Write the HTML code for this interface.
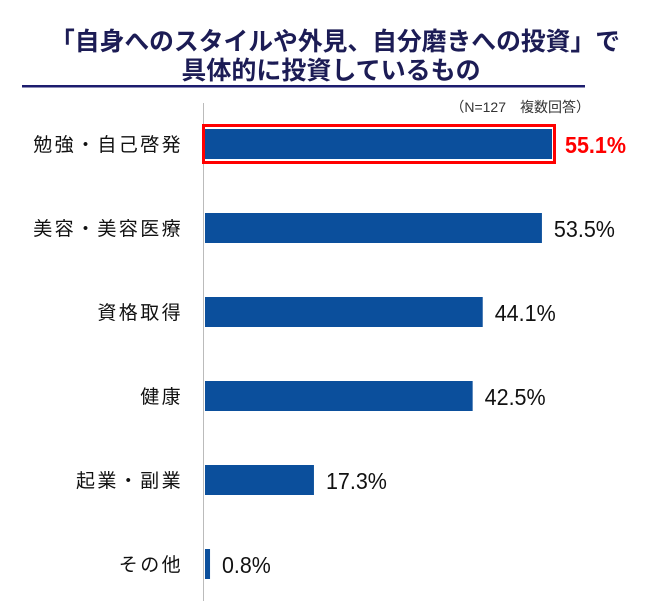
<!DOCTYPE html>
<html><head><meta charset="utf-8"><style>
body{margin:0;background:#fff;width:650px;height:601px;overflow:hidden;font-family:"Liberation Sans","Noto Sans CJK JP",sans-serif}
</style></head><body>
<svg width="650" height="601" xmlns="http://www.w3.org/2000/svg">
<text x="335" y="50" text-anchor="middle" font-size="25" font-weight="bold" fill="#1c1c55" textLength="570" lengthAdjust="spacingAndGlyphs" font-family="Liberation Sans, Noto Sans CJK JP, sans-serif">「自身へのスタイルや外見、自分磨きへの投資」で</text>
<text x="331" y="79" text-anchor="middle" font-size="25" font-weight="bold" fill="#1c1c55" font-family="Liberation Sans, Noto Sans CJK JP, sans-serif">具体的に投資しているもの</text>
<rect x="22" y="85" width="563" height="2.5" fill="#1c1c6e"/>
<text x="590" y="112" text-anchor="end" font-size="14" fill="#333" font-family="Liberation Sans, Noto Sans CJK JP, sans-serif">（N=127　複数回答）</text>
<line x1="203.5" y1="103" x2="203.5" y2="601" stroke="#bbb" stroke-width="1"/>
<g id="bars"></g>
</svg>
<script>
const categories=["勉強・自己啓発","美容・美容医療","資格取得","健康","起業・副業","その他"];
const values=[55.1,53.5,44.1,42.5,17.3,0.8];
const x0=205, pxPer=347/55.1, top0=144, step=84, bh=30;
const xs=v=>x0+v*pxPer;
const ys=i=>top0+i*step;
const g=document.getElementById('bars');
const NS="http://www.w3.org/2000/svg";
categories.forEach((c,i)=>{
  const y=ys(i);
  if(i===0){
    const b=document.createElementNS(NS,'rect');
    b.setAttribute('x',x0-1.5);b.setAttribute('y',y-bh/2-3.5);
    b.setAttribute('width',xs(values[i])-x0+4);b.setAttribute('height',bh+7);
    b.setAttribute('fill','none');b.setAttribute('stroke','#ff0000');b.setAttribute('stroke-width','3');
    
    
    g.appendChild(b);
  }
  const r=document.createElementNS(NS,'rect');
  r.setAttribute('x',x0);r.setAttribute('y',y-bh/2);
  r.setAttribute('width',Math.max(1,xs(values[i])-x0));r.setAttribute('height',bh);
  r.setAttribute('fill','#0b4f9c');
  
  
  g.appendChild(r);
  const l=document.createElementNS(NS,'text');
  l.setAttribute('x',183);l.setAttribute('y',y+7);l.setAttribute('text-anchor','end');
  l.setAttribute('font-size','19');l.setAttribute('letter-spacing','2.4');l.setAttribute('fill','#111');
  l.textContent=c;
  
  
  g.appendChild(l);
  const s=values[i].toFixed(1)+'%';
  const v=document.createElementNS(NS,'text');
  v.setAttribute('x',xs(values[i])+(i===0?13:12));v.setAttribute('y',y+9);
  v.setAttribute('font-size','23');
  v.setAttribute('textLength',String(s.length*12.2));
  v.setAttribute('lengthAdjust','spacingAndGlyphs');
  v.setAttribute('fill',i===0?'#ff0000':'#111');
  if(i===0)v.setAttribute('font-weight','bold');
  v.textContent=s;
  
  
  g.appendChild(v);
});
</script>
</body></html>
